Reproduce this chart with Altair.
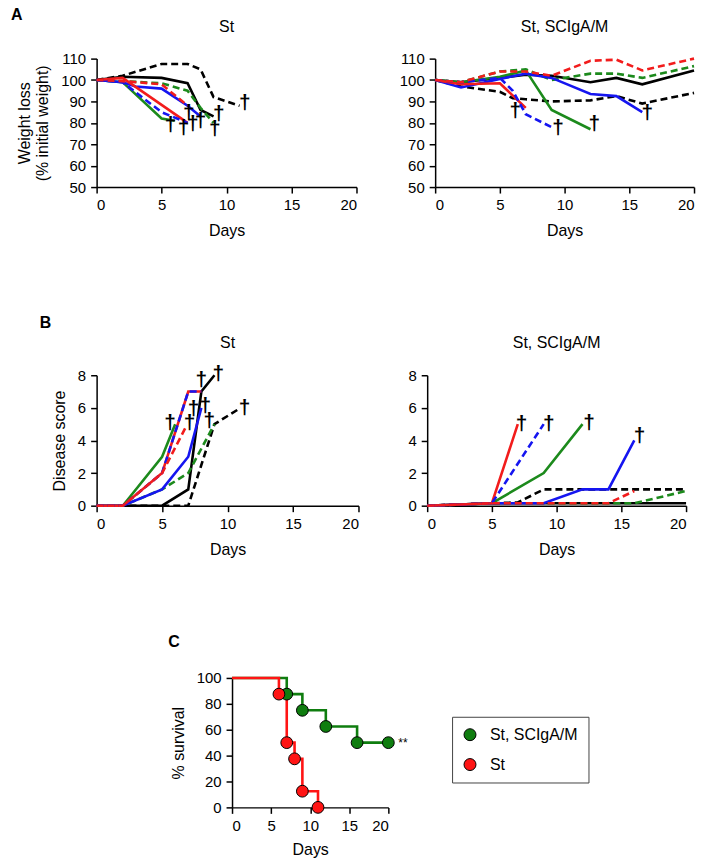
import altair as alt
import pandas as pd

DAY_TICKS = [0, 5, 10, 15, 20]
WEIGHT_TICKS = [50, 60, 70, 80, 90, 100, 110]
SCORE_TICKS = [0, 2, 4, 6, 8]
SURV_TICKS = [0, 20, 40, 60, 80, 100]

# ---- Panel A, group "St": (day, % initial weight) per mouse ----
A_ST_BLACK_SOLID = [(0, 100), (2, 101.5), (5, 101), (7, 98.5), (8, 86), (9, 83)]
A_ST_BLACK_DASHED = [(0, 100), (2, 102), (5, 107.5), (7, 107.5), (8, 105), (9, 92), (11, 88)]
A_ST_GREEN_SOLID = [(0, 100), (2, 99), (5, 82), (6, 81)]
A_ST_GREEN_DASHED = [(0, 100), (2, 99.5), (5, 98.5), (7, 95), (8, 87), (9, 80)]
A_ST_BLUE_SOLID = [(0, 100), (2, 99), (3, 97), (5, 96), (7, 88), (8, 83)]
A_ST_BLUE_DASHED = [(0, 100), (2, 99), (5, 85), (7, 80)]
A_ST_RED_SOLID = [(0, 100), (2, 101), (7, 80)]
A_ST_RED_DASHED = [(0, 100), (2, 99.5), (5, 98), (7, 88)]
A_ST_DEATHS = [(5.7, 78.8), (6.7, 77.8), (7.4, 79.3), (7.1, 84.7), (8.0, 80.8), (9.1, 77.0), (9.4, 84.0), (11.4, 89.4)]

# ---- Panel A, group "St, SCIgA/M" ----
A_SC_BLACK_SOLID = [(0, 100), (2, 99), (5, 101), (7, 102.5), (9, 102), (12, 99), (14, 101), (16, 98), (20, 104.5)]
A_SC_BLACK_DASHED = [(0, 100), (2, 97), (5, 94.5), (6, 91.5), (7, 91), (9, 90), (12, 90.5), (14, 92.5), (16, 89), (20, 94)]
A_SC_GREEN_SOLID = [(0, 100), (2, 99), (5, 101.5), (7, 104.5), (9, 86), (12, 77)]
A_SC_GREEN_DASHED = [(0, 100), (2, 99), (5, 104), (7, 105), (9, 100), (12, 103), (14, 103), (16, 101), (20, 106.5)]
A_SC_BLUE_SOLID = [(0, 100), (2, 96.5), (5, 100.5), (7, 103), (9, 101), (12, 93.5), (14, 92.5), (16, 85)]
A_SC_BLUE_DASHED = [(0, 100), (2, 99), (5, 101), (6, 95), (7, 84), (9, 78)]
A_SC_RED_SOLID = [(0, 100), (2, 98), (5, 98.5), (7, 87)]
A_SC_RED_DASHED = [(0, 100), (2, 99), (5, 104), (7, 104), (9, 102), (12, 109), (14, 109.5), (16, 104.5), (20, 110)]
A_SC_DEATHS = [(6.2, 85.5), (9.5, 77.8), (12.3, 79.3), (16.4, 84.7)]

# ---- Panel B, group "St": (day, disease score) ----
B_ST_BLACK_SOLID = [(0, 0), (5, 0), (7, 1), (8, 7), (9, 8)]
B_ST_BLACK_DASHED = [(0, 0), (7, 0), (9, 5), (11, 6)]
B_ST_GREEN_SOLID = [(0, 0), (2, 0), (5, 3), (6, 5)]
B_ST_GREEN_DASHED = [(0, 0), (2, 0), (5, 1), (7, 2), (9, 5)]
B_ST_BLUE_SOLID = [(0, 0), (2, 0), (5, 1), (7, 3), (8, 6)]
B_ST_BLUE_DASHED = [(0, 0), (2, 0), (5, 2), (7, 7), (8, 7)]
B_ST_RED_SOLID = [(0, 0), (2, 0), (5, 2), (7, 7), (8, 7)]
B_ST_RED_DASHED = [(0, 0), (2, 0), (5, 2), (6.8, 4.8)]
B_ST_DEATHS = [(5.6, 5.1), (7.1, 5.1), (7.4, 5.9), (8.0, 7.7), (8.3, 6.1), (8.6, 5.2), (9.3, 8.1), (11.3, 6.0)]

# ---- Panel B, group "St, SCIgA/M" ----
B_SC_BLACK_SOLID = [(0, 0), (5, 0.15), (20, 0.15)]
B_SC_BLACK_DASHED = [(0, 0), (5, 0.15), (7, 0.2), (9, 1), (20, 1)]
B_SC_GREEN_SOLID = [(0, 0), (5, 0.15), (9, 2), (12, 5)]
B_SC_GREEN_DASHED = [(0, 0), (5, 0.15), (16, 0.15), (20, 0.9)]
B_SC_BLUE_SOLID = [(0, 0), (5, 0.15), (9, 0.15), (12, 1), (14, 1), (16, 4)]
B_SC_BLUE_DASHED = [(0, 0), (5, 0.15), (9, 5)]
B_SC_RED_SOLID = [(0, 0), (5, 0.15), (7, 5)]
B_SC_RED_DASHED = [(0, 0), (5, 0.15), (14, 0.15), (16, 0.9)]
B_SC_DEATHS = [(7.3, 5.0), (9.4, 5.0), (12.5, 5.1), (16.4, 4.3)]

# ---- Panel C, survival (day, % survival) ----
C_GROUPS = ["St, SCIgA/M", "St"]
C_SC = [(0, 100), (7, 87.5), (9, 75), (12, 62.5), (16, 50), (20, 50)]
C_ST = [(0, 100), (6, 87.5), (7, 50), (8, 37.5), (9, 12.5), (11, 0)]
C_SIGNIF = [(20, 50, "**")]

BLACK = "#000000"
GREEN = "#1c8a1c"
BLUE = "#1515f0"
RED = "#f21c1c"
SURV_GREEN = "#0f7d0f"
SURV_RED = "#ff1414"
FONT = "Liberation Sans"

xscale = alt.Scale(domain=[0, 20], nice=False, zero=False)
xaxis = alt.Axis(values=DAY_TICKS, title="Days", format="d")


def to_df(pts):
    return pd.DataFrame(pts, columns=["day", "value"])


def text_layer(text, x, y, size=16, weight="bold", align="left"):
    return alt.Chart(pd.DataFrame({"t": [text]})).mark_text(
        fontSize=size, fontWeight=weight, align=align, baseline="middle", font=FONT
    ).encode(x=alt.value(x), y=alt.value(y), text="t:N")


def panel(series, deaths, ydomain, yticks, ytitle, title, width, height, extra=()):
    yscale = alt.Scale(domain=ydomain, nice=False, zero=False)
    yaxis = alt.Axis(values=yticks, title=ytitle, format="d")
    layers = []
    for pts, color, dashed in series:
        kw = dict(color=color, strokeWidth=2.6, clip=False)
        if dashed:
            kw["strokeDash"] = [7, 4]
        layers.append(
            alt.Chart(to_df(pts)).mark_line(**kw).encode(
                x=alt.X("day:Q", scale=xscale, axis=xaxis),
                y=alt.Y("value:Q", scale=yscale, axis=yaxis),
            )
        )
    layers.append(
        alt.Chart(to_df(deaths).assign(t="†")).mark_text(
            fontSize=21, fontWeight="bold", color="black", baseline="middle", align="center", font=FONT
        ).encode(x=alt.X("day:Q", scale=xscale, axis=xaxis), y=alt.Y("value:Q", scale=yscale, axis=yaxis), text="t:N")
    )
    layers.append(text_layer(title, width / 2, -32, size=16, weight="normal", align="center"))
    layers.extend(extra)
    return alt.layer(*layers).properties(width=width, height=height)


def series_list(bs, bd, gs, gd, us, ud, rs, rd):
    return [
        (bs, BLACK, False), (bd, BLACK, True),
        (gs, GREEN, False), (gd, GREEN, True),
        (us, BLUE, False), (rs, RED, False),
        (ud, BLUE, True), (rd, RED, True),
    ]


a_left = panel(
    series_list(A_ST_BLACK_SOLID, A_ST_BLACK_DASHED, A_ST_GREEN_SOLID, A_ST_GREEN_DASHED,
                A_ST_BLUE_SOLID, A_ST_BLUE_DASHED, A_ST_RED_SOLID, A_ST_RED_DASHED),
    A_ST_DEATHS, [50, 110], WEIGHT_TICKS, ["Weight loss", "(% initial weight)"], "St", 261, 129,
    extra=[text_layer("A", -86, -44)],
)
a_right = panel(
    series_list(A_SC_BLACK_SOLID, A_SC_BLACK_DASHED, A_SC_GREEN_SOLID, A_SC_GREEN_DASHED,
                A_SC_BLUE_SOLID, A_SC_BLUE_DASHED, A_SC_RED_SOLID, A_SC_RED_DASHED),
    A_SC_DEATHS, [50, 110], WEIGHT_TICKS, None, "St, SCIgA/M", 260, 129,
)
b_left = panel(
    series_list(B_ST_BLACK_SOLID, B_ST_BLACK_DASHED, B_ST_GREEN_SOLID, B_ST_GREEN_DASHED,
                B_ST_BLUE_SOLID, B_ST_BLUE_DASHED, B_ST_RED_SOLID, B_ST_RED_DASHED),
    B_ST_DEATHS, [0, 8], SCORE_TICKS, "Disease score", "St", 263, 131,
    extra=[text_layer("B", -57, -52)],
)
b_right = panel(
    series_list(B_SC_BLACK_SOLID, B_SC_BLACK_DASHED, B_SC_GREEN_SOLID, B_SC_GREEN_DASHED,
                B_SC_BLUE_SOLID, B_SC_BLUE_DASHED, B_SC_RED_SOLID, B_SC_RED_DASHED),
    B_SC_DEATHS, [0, 8], SCORE_TICKS, None, "St, SCIgA/M", 260, 131,
)

# ---- survival panel ----
c_xscale = alt.Scale(domain=[0, 20], nice=False, zero=False)
c_yscale = alt.Scale(domain=[0, 100], nice=False, zero=False)
c_x = alt.X("day:Q", scale=c_xscale, axis=alt.Axis(values=DAY_TICKS, title="Days", format="d", titlePadding=8))
c_y = alt.Y("value:Q", scale=c_yscale, axis=alt.Axis(values=SURV_TICKS, title="% survival", format="d"))
color_scale = alt.Scale(domain=C_GROUPS, range=[SURV_GREEN, SURV_RED])

surv_df = pd.concat([
    to_df(C_SC).assign(group=C_GROUPS[0]),
    to_df(C_ST).assign(group=C_GROUPS[1]),
])
steps = []
for g, col in zip(C_GROUPS, [SURV_GREEN, SURV_RED]):
    steps.append(
        alt.Chart(surv_df[surv_df.group == g]).mark_line(interpolate="step-after", color=col, strokeWidth=2.6, clip=False)
        .encode(x=c_x, y=c_y)
    )
marks_df = pd.concat([
    to_df(C_SC[1:]).assign(group=C_GROUPS[0]),
    to_df(C_ST[1:]).assign(group=C_GROUPS[1]),
])
markers = alt.Chart(marks_df).mark_circle(size=140, stroke="black", strokeWidth=1, opacity=1, clip=False).encode(
    x=c_x, y=c_y,
    color=alt.Color("group:N", scale=color_scale, sort=C_GROUPS, legend=alt.Legend(
        orient="none", legendX=357, legendY=39, title=None, strokeColor="#444444",
        padding=10, symbolSize=144, symbolStrokeColor="black", symbolStrokeWidth=1, symbolType="circle",
        labelFontSize=16, labelFont=FONT, rowPadding=14, fillColor="white", labelOffset=12,
    )),
)
signif = alt.Chart(pd.DataFrame(C_SIGNIF, columns=["day", "value", "t"])).mark_text(
    align="left", baseline="middle", dx=10, fontSize=12, font=FONT
).encode(x=c_x, y=c_y, text="t:N")
c_panel = alt.layer(*steps, markers, signif, text_layer("C", -64, -36)).properties(width=157, height=130)

spacer = alt.Chart(pd.DataFrame({"v": [0]})).mark_point(opacity=0, size=1).encode(
    x=alt.X("v:Q", axis=None), y=alt.Y("v:Q", axis=None)
).properties(width=1, height=130)

row_a = alt.hconcat(a_left, a_right, spacing=41)
row_b = alt.hconcat(b_left, b_right, spacing=48)
row_c = alt.hconcat(spacer, c_panel, spacing=71)

chart = alt.vconcat(row_a, row_b, row_c, spacing=77).resolve_scale(
    x="independent", y="independent", color="independent"
).properties(padding={"left": 3, "top": -3, "right": 0, "bottom": 0}).configure_view(stroke=None).configure_axis(
    grid=False, domainColor="black", domainWidth=1.5, tickColor="black", tickWidth=1.5, tickSize=6,
    labelFontSize=15, labelFont=FONT, labelColor="black", titleFontSize=16, titleFont=FONT,
    titleFontWeight="normal", titleColor="black", labelPadding=5,
).configure_axisX(titlePadding=10).configure_axisY(titlePadding=10)

chart.save("out.html", embed_options={"renderer": "svg", "actions": False})
